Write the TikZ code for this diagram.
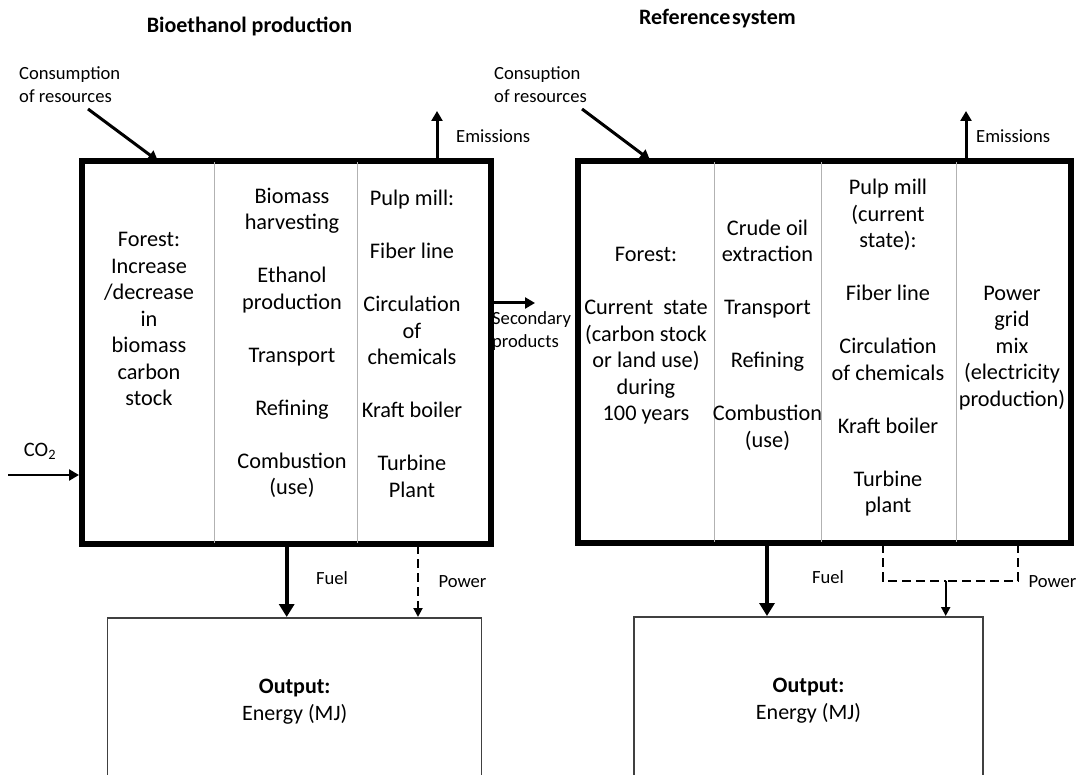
\documentclass[tikz,border=0pt]{standalone}
\usepackage{fontspec}
\setmainfont{Carlito}
\usetikzlibrary{arrows.meta}
\begin{document}
\begin{tikzpicture}[x=1pt,y=-1pt,
  sysbox/.style={draw=black, line width=4pt, inner sep=0pt},
  divider/.style={draw=black!30, line width=1pt},
  coltext/.style={align=center, inner sep=0pt, font=\fontsize{22.3}{26.5}\selectfont},
  lbl/.style={inner sep=0pt, font=\fontsize{18.6}{23}\selectfont},
  title/.style={inner sep=0pt, font=\bfseries\fontsize{22}{26}\selectfont},
  outbox/.style={draw=black!75, line width=1.5pt, align=center, inner sep=0pt,
    font=\fontsize{22}{27}\selectfont},
  flow/.style={line width=3pt, -{Triangle[length=10pt,width=11pt]}},
  fuel/.style={line width=4pt, -{Triangle[length=13pt,width=15pt]}},
  power/.style={line width=2pt, dash pattern=on 9pt off 5pt},
  powertip/.style={-{Triangle[length=9pt,width=9pt]}},
  thinflow/.style={line width=2pt, -{Triangle[length=9pt,width=9pt]}}
]
\useasboundingbox (0,0) rectangle (1079,775);
\clip (0,0) rectangle (1079,775);

% ---------- titles ----------
\node[title, anchor=base] (t1) at (249.5,33) {Bioethanol production};
\node[title, anchor=base] (t2) at (717.5,25) {Reference\hspace{0.08em}system};

% ---------- system boxes ----------
\node[sysbox, minimum width=407pt, minimum height=380.5pt] (bio) at (286.5,352.75) {};
\node[sysbox, minimum width=491pt, minimum height=380pt] (ref) at (824.5,352) {};

% column dividers
\coordinate (d1) at (214,0);
\coordinate (d2) at (357.7,0);
\coordinate (d3) at (714,0);
\coordinate (d4) at (821,0);
\coordinate (d5) at (956,0);
\draw[divider] (d1 |- bio.north) -- (d1 |- bio.south);
\draw[divider] (d2 |- bio.north) -- (d2 |- bio.south);
\draw[divider] (d3 |- ref.north) -- (d3 |- ref.south);
\draw[divider] (d4 |- ref.north) -- (d4 |- ref.south);
\draw[divider] (d5 |- ref.north) -- (d5 |- ref.south);
% redraw outer frames over divider ends
\draw[line width=4pt] (bio.north west) rectangle (bio.south east);
\draw[line width=4pt] (ref.north west) rectangle (ref.south east);

% ---------- column texts: bioethanol production ----------
\node[coltext] (b1) at (149,319) {Forest:\\Increase\\/decrease\\in\\biomass\\carbon\\stock};
\node[coltext] (b2) at (292,343) {Biomass\\harvesting\\[26.5pt]Ethanol\\production\\[26.5pt]Transport\\[26.5pt]Refining\\[26.5pt]Combustion\\(use)};
\node[coltext] (b3) at (412,344) {Pulp mill:\\[26.5pt]Fiber line\\[26.5pt]Circulation\\of\\chemicals\\[26.5pt]Kraft boiler\\[26.5pt]Turbine\\Plant};

% ---------- column texts: reference system ----------
\node[coltext] (r1) at (646,336) {Forest:\\[26.5pt]Current\hspace{0.45em}state\\(carbon stock\\or land use)\\during\\100 years};
\node[coltext] (r2) at (767.5,335) {Crude oil\\extraction\\[26.5pt]Transport\\[26.5pt]Refining\\[26.5pt]Combustion\\(use)};
\node[coltext] (r3) at (888,348) {Pulp mill\\(current\\state):\\[26.5pt]Fiber line\\[26.5pt]Circulation\\of chemicals\\[26.5pt]Kraft boiler\\[26.5pt]Turbine\\plant};
\node[coltext] (r4) at (1012,348) {Power\\grid\\mix\\(electricity\\production)};

% ---------- output boxes ----------
\node[outbox, minimum width=374pt, minimum height=168pt, anchor=north] (out1) at (294.7,617) {\textbf{Output:}\\Energy (MJ)};
\node[outbox, minimum width=349pt, minimum height=168pt, anchor=north] (out2) at (808.5,616) {\textbf{Output:}\\Energy (MJ)};

% ---------- inputs and emissions: bioethanol production ----------
\node[lbl, align=left, anchor=west] (cons1) at (19,85) {Consumption\\of resources};
\coordinate (c1s) at (88,109);
\coordinate (c1e) at (158,161);
\draw[flow] (c1s) -- (c1e);

\coordinate (e1) at (437,111);
\draw[flow] (e1 |- bio.north) -- (e1);
\node[lbl, anchor=base west] (em1) at (456,143) {Emissions};

\node[lbl, font=\fontsize{20.5}{24}\selectfont] (co2) at (40,451) {CO\textsubscript{2}};
\coordinate (co2s) at (8,475);
\draw[flow, line width=2.5pt] (co2s) -- ([xshift=-2pt]co2s -| bio.west);

\coordinate (sec) at (535,303);
\draw[flow] (sec -| bio.east) -- (sec);
\node[lbl, align=left, anchor=west] (secl) at (492,331) {Secondary\\products};

% ---------- inputs and emissions: reference system ----------
\node[lbl, align=left, anchor=west] (cons2) at (494,85) {Consuption\\of resources};
\coordinate (c2s) at (582,109);
\coordinate (c2e) at (650,160);
\draw[flow] (c2s) -- (c2e);

\coordinate (e2) at (966,111);
\draw[flow] (e2 |- ref.north) -- (e2);
\node[lbl, anchor=base west] (em2) at (976,143) {Emissions};

% ---------- outputs: bioethanol production ----------
\coordinate (lf) at (286.7,0);
\draw[fuel] (lf |- bio.south) -- (lf |- out1.north);
\node[lbl, anchor=base] (fuel1) at (332,584) {Fuel};

\coordinate (lp) at (418,0);
\draw[power, powertip] (lp |- bio.south) -- (lp |- out1.north);
\node[lbl, anchor=base] (pow1) at (462.5,587) {Power};

% ---------- outputs: reference system ----------
\coordinate (rf) at (767,0);
\draw[fuel] (rf |- ref.south) -- (rf |- out2.north);
\node[lbl, anchor=base] (fuel2) at (828,583) {Fuel};

\coordinate (pa) at (882.7,0);
\coordinate (pb) at (1018,0);
\coordinate (pj) at (945.7,580.7);
\draw[power] (pa |- ref.south) |- (pj);
\draw[power] (pb |- ref.south) |- (pj);
\draw[thinflow] (pj) -- (pj |- out2.north);
\node[lbl, anchor=base] (pow2) at (1052.5,587) {Power};
\end{tikzpicture}
\end{document}
